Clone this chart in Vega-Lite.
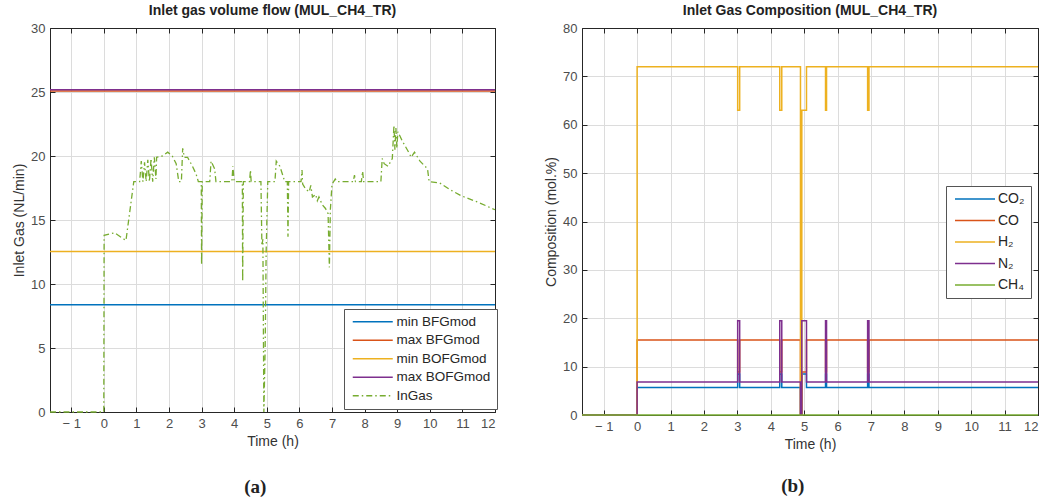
{
  "$schema": "https://vega.github.io/schema/vega-lite/v6.json",
  "background": "white",
  "padding": {"left": 12, "top": 3, "right": 5, "bottom": 5},
  "config": {
    "font": "Liberation Sans",
    "view": {"stroke": "#262626", "strokeWidth": 1},
    "axis": {
      "labelFont": "Liberation Sans", "labelFontSize": 13, "labelColor": "#4d4d4d",
      "titleFont": "Liberation Sans", "titleFontSize": 14, "titleFontWeight": "normal", "titleColor": "#333333",
      "gridColor": "#dcdcdc", "gridWidth": 1, "domainColor": "#262626", "tickColor": "#262626",
      "tickSize": -5, "labelPadding": 10
    },
    "title": {"font": "Liberation Sans", "fontSize": 14, "fontWeight": "bold", "color": "#222222", "offset": 4},
    "legend": {
      "labelFont": "Liberation Sans", "labelColor": "#262626",
      "strokeColor": "#555555", "fillColor": "white", "padding": 6,
      "symbolType": "M-1,0H9", "symbolSize": 64, "symbolStrokeWidth": 1.5, "labelOffset": 33
    }
  },
  "resolve": {
    "scale": {"color": "independent", "strokeDash": "independent"},
    "legend": {"color": "independent", "strokeDash": "independent"}
  },
  "datasets": {
    "aconst": [
      {"series": "min BFGmod", "t": -1.65, "v": 8.37}, {"series": "min BFGmod", "t": 12, "v": 8.37},
      {"series": "max BFGmod", "t": -1.65, "v": 25.08}, {"series": "max BFGmod", "t": 12, "v": 25.08},
      {"series": "min BOFGmod", "t": -1.65, "v": 12.54}, {"series": "min BOFGmod", "t": 12, "v": 12.54},
      {"series": "max BOFGmod", "t": -1.65, "v": 25.18}, {"series": "max BOFGmod", "t": 12, "v": 25.18}
    ],
    "ingas": [
      {"series": "InGas", "t": -1.65, "v": 0}, {"series": "InGas", "t": 0, "v": 0},
      {"series": "InGas", "t": 0.01, "v": 13.8}, {"series": "InGas", "t": 0.33, "v": 14.0},
      {"series": "InGas", "t": 0.68, "v": 13.4}, {"series": "InGas", "t": 0.92, "v": 18.0},
      {"series": "InGas", "t": 1.1, "v": 18.0}, {"series": "InGas", "t": 1.15, "v": 19.6},
      {"series": "InGas", "t": 1.2, "v": 18.0}, {"series": "InGas", "t": 1.25, "v": 19.5},
      {"series": "InGas", "t": 1.3, "v": 18.0}, {"series": "InGas", "t": 1.35, "v": 19.7},
      {"series": "InGas", "t": 1.4, "v": 18.0}, {"series": "InGas", "t": 1.45, "v": 19.8},
      {"series": "InGas", "t": 1.5, "v": 18.0}, {"series": "InGas", "t": 1.55, "v": 19.9},
      {"series": "InGas", "t": 1.6, "v": 18.2}, {"series": "InGas", "t": 1.62, "v": 19.9},
      {"series": "InGas", "t": 1.8, "v": 20.0}, {"series": "InGas", "t": 1.96, "v": 20.3},
      {"series": "InGas", "t": 2.1, "v": 20.0}, {"series": "InGas", "t": 2.22, "v": 19.4},
      {"series": "InGas", "t": 2.3, "v": 18.0}, {"series": "InGas", "t": 2.38, "v": 18.0},
      {"series": "InGas", "t": 2.42, "v": 20.6}, {"series": "InGas", "t": 2.47, "v": 19.9},
      {"series": "InGas", "t": 2.57, "v": 19.9}, {"series": "InGas", "t": 2.72, "v": 19.2},
      {"series": "InGas", "t": 2.83, "v": 18.6}, {"series": "InGas", "t": 2.9, "v": 18.0},
      {"series": "InGas", "t": 2.99, "v": 18.0}, {"series": "InGas", "t": 3.0, "v": 11.5},
      {"series": "InGas", "t": 3.02, "v": 18.0}, {"series": "InGas", "t": 3.25, "v": 18.0},
      {"series": "InGas", "t": 3.29, "v": 19.6}, {"series": "InGas", "t": 3.4, "v": 19.0},
      {"series": "InGas", "t": 3.44, "v": 18.0}, {"series": "InGas", "t": 3.93, "v": 18.0},
      {"series": "InGas", "t": 3.96, "v": 19.2}, {"series": "InGas", "t": 4.0, "v": 18.0},
      {"series": "InGas", "t": 4.25, "v": 18.0}, {"series": "InGas", "t": 4.26, "v": 10.2},
      {"series": "InGas", "t": 4.28, "v": 18.0}, {"series": "InGas", "t": 4.47, "v": 18.0},
      {"series": "InGas", "t": 4.5, "v": 18.9}, {"series": "InGas", "t": 4.52, "v": 18.0},
      {"series": "InGas", "t": 4.82, "v": 18.0}, {"series": "InGas", "t": 4.85, "v": 13.0},
      {"series": "InGas", "t": 4.88, "v": 13.5}, {"series": "InGas", "t": 4.91, "v": 0},
      {"series": "InGas", "t": 4.95, "v": 5.0}, {"series": "InGas", "t": 4.98, "v": 12.5},
      {"series": "InGas", "t": 5.03, "v": 18.0}, {"series": "InGas", "t": 5.25, "v": 18.0},
      {"series": "InGas", "t": 5.29, "v": 19.6}, {"series": "InGas", "t": 5.4, "v": 19.2},
      {"series": "InGas", "t": 5.49, "v": 18.5}, {"series": "InGas", "t": 5.55, "v": 18.0},
      {"series": "InGas", "t": 5.63, "v": 18.0}, {"series": "InGas", "t": 5.65, "v": 13.7},
      {"series": "InGas", "t": 5.67, "v": 18.0}, {"series": "InGas", "t": 6.05, "v": 18.0},
      {"series": "InGas", "t": 6.08, "v": 18.9}, {"series": "InGas", "t": 6.1, "v": 17.8},
      {"series": "InGas", "t": 6.2, "v": 17.4}, {"series": "InGas", "t": 6.3, "v": 17.2},
      {"series": "InGas", "t": 6.35, "v": 17.7}, {"series": "InGas", "t": 6.4, "v": 16.8},
      {"series": "InGas", "t": 6.5, "v": 17.0}, {"series": "InGas", "t": 6.55, "v": 16.5},
      {"series": "InGas", "t": 6.6, "v": 16.8}, {"series": "InGas", "t": 6.7, "v": 16.2},
      {"series": "InGas", "t": 6.8, "v": 15.9}, {"series": "InGas", "t": 6.88, "v": 15.5},
      {"series": "InGas", "t": 6.92, "v": 11.3}, {"series": "InGas", "t": 6.95, "v": 15.8},
      {"series": "InGas", "t": 7.0, "v": 17.8}, {"series": "InGas", "t": 7.1, "v": 18.2},
      {"series": "InGas", "t": 7.15, "v": 18.0}, {"series": "InGas", "t": 7.65, "v": 18.0},
      {"series": "InGas", "t": 7.69, "v": 18.5}, {"series": "InGas", "t": 7.72, "v": 18.0},
      {"series": "InGas", "t": 7.9, "v": 18.0}, {"series": "InGas", "t": 7.94, "v": 18.8},
      {"series": "InGas", "t": 7.97, "v": 18.0}, {"series": "InGas", "t": 8.5, "v": 18.0},
      {"series": "InGas", "t": 8.54, "v": 19.8}, {"series": "InGas", "t": 8.6, "v": 19.4},
      {"series": "InGas", "t": 8.72, "v": 19.2}, {"series": "InGas", "t": 8.85, "v": 19.8},
      {"series": "InGas", "t": 8.9, "v": 22.4}, {"series": "InGas", "t": 8.93, "v": 20.5},
      {"series": "InGas", "t": 8.96, "v": 22.2}, {"series": "InGas", "t": 8.99, "v": 20.6},
      {"series": "InGas", "t": 9.02, "v": 21.9}, {"series": "InGas", "t": 9.15, "v": 21.2},
      {"series": "InGas", "t": 9.35, "v": 20.3}, {"series": "InGas", "t": 9.43, "v": 19.9},
      {"series": "InGas", "t": 9.53, "v": 20.3}, {"series": "InGas", "t": 9.7, "v": 19.6},
      {"series": "InGas", "t": 9.93, "v": 19.0}, {"series": "InGas", "t": 9.98, "v": 18.0},
      {"series": "InGas", "t": 10.3, "v": 17.9}, {"series": "InGas", "t": 10.6, "v": 17.4},
      {"series": "InGas", "t": 10.96, "v": 16.9}, {"series": "InGas", "t": 11.47, "v": 16.4},
      {"series": "InGas", "t": 12, "v": 15.8}
    ],
    "comp": [
      {"series": "CO₂", "t": -1.65, "v": 0}, {"series": "CO₂", "t": 0, "v": 5.7}, {"series": "CO₂", "t": 3.01, "v": 8.5}, {"series": "CO₂", "t": 3.07, "v": 5.7}, {"series": "CO₂", "t": 4.27, "v": 8.5}, {"series": "CO₂", "t": 4.33, "v": 5.7}, {"series": "CO₂", "t": 4.89, "v": 0}, {"series": "CO₂", "t": 4.93, "v": 8.5}, {"series": "CO₂", "t": 5.07, "v": 5.7}, {"series": "CO₂", "t": 5.64, "v": 8.5}, {"series": "CO₂", "t": 5.67, "v": 5.7}, {"series": "CO₂", "t": 6.9, "v": 8.5}, {"series": "CO₂", "t": 6.94, "v": 5.7}, {"series": "CO₂", "t": 12, "v": 5.7},
      {"series": "CO", "t": -1.65, "v": 0}, {"series": "CO", "t": 0, "v": 15.5}, {"series": "CO", "t": 3.01, "v": 8.9}, {"series": "CO", "t": 3.07, "v": 15.5}, {"series": "CO", "t": 4.27, "v": 8.9}, {"series": "CO", "t": 4.33, "v": 15.5}, {"series": "CO", "t": 4.89, "v": 0}, {"series": "CO", "t": 4.93, "v": 8.9}, {"series": "CO", "t": 5.07, "v": 15.5}, {"series": "CO", "t": 5.64, "v": 8.9}, {"series": "CO", "t": 5.67, "v": 15.5}, {"series": "CO", "t": 6.9, "v": 8.9}, {"series": "CO", "t": 6.94, "v": 15.5}, {"series": "CO", "t": 12, "v": 15.5},
      {"series": "H₂", "t": -1.65, "v": 0}, {"series": "H₂", "t": 0, "v": 72}, {"series": "H₂", "t": 3.01, "v": 63}, {"series": "H₂", "t": 3.07, "v": 72}, {"series": "H₂", "t": 4.27, "v": 63}, {"series": "H₂", "t": 4.33, "v": 72}, {"series": "H₂", "t": 4.89, "v": 0}, {"series": "H₂", "t": 4.93, "v": 63}, {"series": "H₂", "t": 5.07, "v": 72}, {"series": "H₂", "t": 5.64, "v": 63}, {"series": "H₂", "t": 5.67, "v": 72}, {"series": "H₂", "t": 6.9, "v": 63}, {"series": "H₂", "t": 6.94, "v": 72}, {"series": "H₂", "t": 12, "v": 72},
      {"series": "N₂", "t": -1.65, "v": 0}, {"series": "N₂", "t": 0, "v": 6.8}, {"series": "N₂", "t": 3.01, "v": 19.5}, {"series": "N₂", "t": 3.07, "v": 6.8}, {"series": "N₂", "t": 4.27, "v": 19.5}, {"series": "N₂", "t": 4.33, "v": 6.8}, {"series": "N₂", "t": 4.89, "v": 0}, {"series": "N₂", "t": 4.93, "v": 19.5}, {"series": "N₂", "t": 5.07, "v": 6.8}, {"series": "N₂", "t": 5.64, "v": 19.5}, {"series": "N₂", "t": 5.67, "v": 6.8}, {"series": "N₂", "t": 6.9, "v": 19.5}, {"series": "N₂", "t": 6.94, "v": 6.8}, {"series": "N₂", "t": 12, "v": 6.8},
      {"series": "CH₄", "t": -1.65, "v": 0}, {"series": "CH₄", "t": 12, "v": 0}
    ]
  },
  "spacing": 45,
  "hconcat": [
    {
      "title": {"text": "(a)", "orient": "bottom", "anchor": "middle", "font": "Liberation Serif", "fontSize": 19, "fontWeight": "bold", "color": "#222222", "offset": 29},
      "vconcat": [
        {
          "width": 445, "height": 384,
          "title": {"text": "Inlet gas volume flow (MUL_CH4_TR)"},
          "resolve": {"axis": {"x": "independent", "y": "independent"}},
          "layer": [
            {
              "data": {"name": "aconst"},
              "mark": {"type": "line", "strokeWidth": 1.5},
              "encoding": {
                "x": {"field": "t", "type": "quantitative", "scale": {"domain": [-1.65, 12], "nice": false, "zero": false},
                      "axis": {"orient": "bottom", "title": "Time (h)", "values": [-1,0,1,2,3,4,5,6,7,8,9,10,11,12], "labelExpr": "datum.value < 0 ? '− ' + format(-datum.value, 'd') : format(datum.value, 'd')", "grid": true}},
                "y": {"field": "v", "type": "quantitative", "scale": {"domain": [0, 30], "nice": false},
                      "axis": {"orient": "left", "title": "Inlet Gas (NL/min)", "values": [0,5,10,15,20,25,30], "grid": true}},
                "color": {"field": "series", "type": "nominal",
                          "scale": {"domain": ["min BFGmod", "max BFGmod", "min BOFGmod", "max BOFGmod", "InGas"], "range": ["#0072BD", "#D95319", "#EDB120", "#7E2F8E", "#77AC30"]},
                          "legend": {"title": null, "orient": "none", "legendX": 294, "legendY": 281, "labelFontSize": 13.5, "rowPadding": 3.5}},
                "strokeDash": {"field": "series", "type": "nominal",
                          "scale": {"domain": ["min BFGmod", "max BFGmod", "min BOFGmod", "max BOFGmod", "InGas"], "range": [[1,0],[1,0],[1,0],[1,0],[6,3,1.5,3]]},
                          "legend": {"title": null, "orient": "none", "legendX": 294, "legendY": 281, "labelFontSize": 13.5, "rowPadding": 3.5}}
              }
            },
            {
              "data": {"name": "ingas"},
              "mark": {"type": "line", "strokeWidth": 1.3},
              "encoding": {
                "x": {"field": "t", "type": "quantitative", "scale": {"domain": [-1.65, 12], "nice": false, "zero": false},
                      "axis": {"orient": "top", "title": null, "values": [-1,0,1,2,3,4,5,6,7,8,9,10,11,12], "labels": false, "grid": false}},
                "y": {"field": "v", "type": "quantitative", "scale": {"domain": [0, 30], "nice": false},
                      "axis": {"orient": "right", "title": null, "values": [0,5,10,15,20,25,30], "labels": false, "grid": false}},
                "color": {"field": "series", "type": "nominal",
                          "scale": {"domain": ["min BFGmod", "max BFGmod", "min BOFGmod", "max BOFGmod", "InGas"], "range": ["#0072BD", "#D95319", "#EDB120", "#7E2F8E", "#77AC30"]},
                          "legend": {"title": null, "orient": "none", "legendX": 294, "legendY": 281, "labelFontSize": 13.5, "rowPadding": 3.5}},
                "strokeDash": {"field": "series", "type": "nominal",
                          "scale": {"domain": ["min BFGmod", "max BFGmod", "min BOFGmod", "max BOFGmod", "InGas"], "range": [[1,0],[1,0],[1,0],[1,0],[6,3,1.5,3]]},
                          "legend": {"title": null, "orient": "none", "legendX": 294, "legendY": 281, "labelFontSize": 13.5, "rowPadding": 3.5}}
              }
            }
          ]
        }
      ]
    },
    {
      "title": {"text": "(b)", "orient": "bottom", "anchor": "middle", "font": "Liberation Serif", "fontSize": 19, "fontWeight": "bold", "color": "#222222", "offset": 25},
      "vconcat": [
        {
          "width": 456, "height": 387,
          "title": {"text": "Inlet Gas Composition (MUL_CH4_TR)"},
          "resolve": {"axis": {"x": "independent", "y": "independent"}},
          "data": {"name": "comp"},
          "layer": [
            {
              "transform": [{"filter": "datum.series != 'CH₄'"}],
              "mark": {"type": "line", "strokeWidth": 1.5, "interpolate": "step-after"},
              "encoding": {
                "x": {"field": "t", "type": "quantitative", "scale": {"domain": [-1.65, 12], "nice": false, "zero": false},
                      "axis": {"orient": "bottom", "title": "Time (h)", "values": [-1,0,1,2,3,4,5,6,7,8,9,10,11,12], "labelExpr": "datum.value < 0 ? '− ' + format(-datum.value, 'd') : format(datum.value, 'd')", "grid": true}},
                "y": {"field": "v", "type": "quantitative", "scale": {"domain": [0, 80], "nice": false},
                      "axis": {"orient": "left", "title": "Composition (mol.%)", "values": [0,10,20,30,40,50,60,70,80], "grid": true}},
                "color": {"field": "series", "type": "nominal",
                          "scale": {"domain": ["CO₂", "CO", "H₂", "N₂", "CH₄"], "range": ["#0072BD", "#D95319", "#EDB120", "#7E2F8E", "#77AC30"]},
                          "legend": {"title": null, "orient": "none", "legendX": 364, "legendY": 158, "labelFontSize": 14, "rowPadding": 7.5, "labelOffset": 32}}
              }
            },
            {
              "transform": [{"filter": "datum.series == 'CH₄'"}],
              "mark": {"type": "line", "strokeWidth": 1.5, "interpolate": "step-after"},
              "encoding": {
                "x": {"field": "t", "type": "quantitative", "scale": {"domain": [-1.65, 12], "nice": false, "zero": false},
                      "axis": {"orient": "top", "title": null, "values": [-1,0,1,2,3,4,5,6,7,8,9,10,11,12], "labels": false, "grid": false}},
                "y": {"field": "v", "type": "quantitative", "scale": {"domain": [0, 80], "nice": false},
                      "axis": {"orient": "right", "title": null, "values": [0,10,20,30,40,50,60,70,80], "labels": false, "grid": false}},
                "color": {"field": "series", "type": "nominal",
                          "scale": {"domain": ["CO₂", "CO", "H₂", "N₂", "CH₄"], "range": ["#0072BD", "#D95319", "#EDB120", "#7E2F8E", "#77AC30"]},
                          "legend": {"title": null, "orient": "none", "legendX": 364, "legendY": 158, "labelFontSize": 14, "rowPadding": 7.5, "labelOffset": 32}}
              }
            }
          ]
        }
      ]
    }
  ]
}
